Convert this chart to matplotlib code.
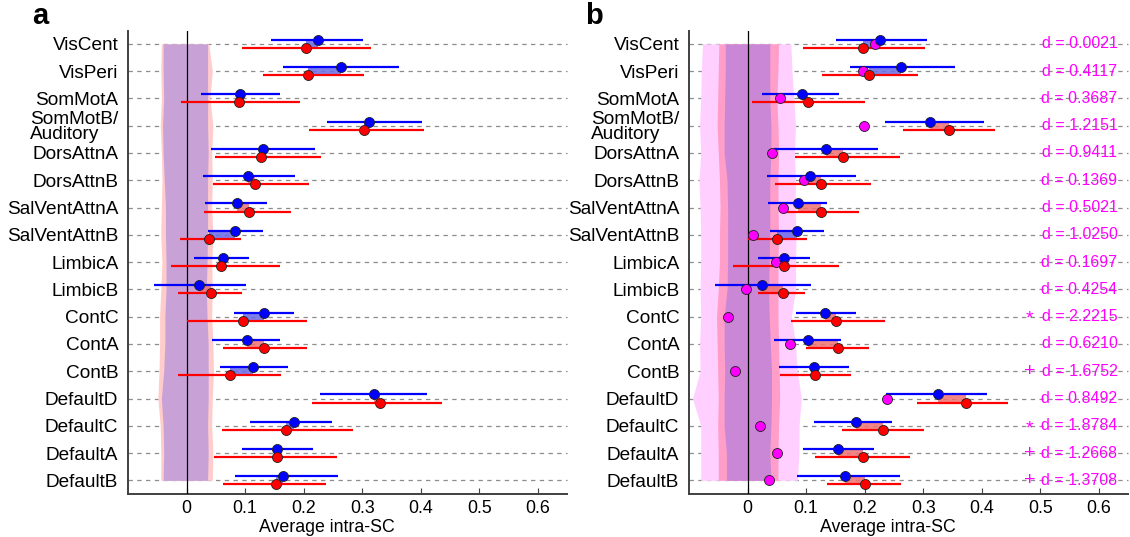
import numpy as np
import matplotlib
matplotlib.use("Agg")
import matplotlib.pyplot as plt

plt.rcParams['font.family'] = ['Liberation Sans', 'DejaVu Sans']

networks = ["VisCent", "VisPeri", "SomMotA", "SomMotB/\nAuditory", "DorsAttnA", "DorsAttnB",
            "SalVentAttnA", "SalVentAttnB", "LimbicA", "LimbicB", "ContC", "ContA", "ContB",
            "DefaultD", "DefaultC", "DefaultA", "DefaultB"]

# ---- panel a ----
a_blue_mean = [0.225, 0.264, 0.092, 0.312, 0.130, 0.105, 0.086, 0.083, 0.062, 0.021, 0.132, 0.103, 0.113, 0.321, 0.183, 0.154, 0.165]
a_blue_lo   = [0.144, 0.165, 0.025, 0.240, 0.042, 0.028, 0.032, 0.036, 0.013, -0.056, 0.081, 0.043, 0.058, 0.228, 0.108, 0.094, 0.083]
a_blue_hi   = [0.302, 0.363, 0.160, 0.402, 0.220, 0.186, 0.137, 0.130, 0.107, 0.101, 0.183, 0.159, 0.173, 0.410, 0.248, 0.216, 0.258]
a_red_mean  = [0.204, 0.208, 0.089, 0.304, 0.127, 0.117, 0.107, 0.038, 0.059, 0.041, 0.096, 0.132, 0.075, 0.331, 0.170, 0.154, 0.152]
a_red_lo    = [0.095, 0.130, -0.010, 0.209, 0.048, 0.045, 0.029, -0.012, -0.026, -0.014, 0.000, 0.063, -0.015, 0.214, 0.061, 0.047, 0.062]
a_red_hi    = [0.315, 0.303, 0.193, 0.405, 0.230, 0.209, 0.179, 0.093, 0.159, 0.094, 0.206, 0.206, 0.162, 0.437, 0.285, 0.257, 0.239]
a_null_red_lo  = [-0.043, -0.044, -0.043, -0.045, -0.043, -0.042, -0.043, -0.044, -0.042, -0.044, -0.046, -0.046, -0.047, -0.049, -0.045, -0.044, -0.044]
a_null_red_hi  = [0.038, 0.044, 0.040, 0.045, 0.043, 0.044, 0.043, 0.045, 0.043, 0.044, 0.043, 0.045, 0.046, 0.044, 0.043, 0.045, 0.044]
a_null_blue_lo = [-0.040, -0.040, -0.039, -0.041, -0.040, -0.038, -0.036, -0.036, -0.035, -0.035, -0.037, -0.037, -0.039, -0.043, -0.040, -0.039, -0.040]
a_null_blue_hi = [0.036, 0.036, 0.036, 0.036, 0.037, 0.036, 0.036, 0.036, 0.035, 0.034, 0.035, 0.037, 0.037, 0.037, 0.036, 0.037, 0.036]

# ---- panel b ----
b_blue_mean = [0.226, 0.263, 0.093, 0.312, 0.134, 0.106, 0.087, 0.085, 0.063, 0.024, 0.133, 0.104, 0.113, 0.325, 0.185, 0.155, 0.167]
b_blue_lo   = [0.151, 0.175, 0.025, 0.234, 0.045, 0.034, 0.035, 0.039, 0.018, -0.056, 0.083, 0.045, 0.053, 0.236, 0.113, 0.094, 0.084]
b_blue_hi   = [0.306, 0.354, 0.157, 0.404, 0.223, 0.185, 0.135, 0.131, 0.107, 0.108, 0.186, 0.159, 0.173, 0.409, 0.247, 0.216, 0.260]
b_red_mean  = [0.197, 0.207, 0.103, 0.345, 0.163, 0.126, 0.125, 0.051, 0.063, 0.061, 0.151, 0.154, 0.115, 0.374, 0.232, 0.198, 0.200]
b_red_lo    = [0.095, 0.128, 0.007, 0.265, 0.081, 0.047, 0.060, 0.001, -0.024, 0.018, 0.075, 0.100, 0.055, 0.290, 0.162, 0.116, 0.136]
b_red_hi    = [0.304, 0.292, 0.200, 0.422, 0.261, 0.211, 0.190, 0.101, 0.157, 0.099, 0.235, 0.208, 0.177, 0.445, 0.301, 0.278, 0.262]
b_mag_mean  = [0.218, 0.197, 0.056, 0.199, 0.042, 0.097, 0.060, 0.009, 0.048, -0.002, -0.033, 0.073, -0.021, 0.239, 0.022, 0.051, 0.037]
b_d_values  = ["0.0021", "0.4117", "0.3687", "1.2151", "0.9411", "0.1369", "0.5021", "1.0250", "0.1697",
               "0.4254", "2.2215", "0.6210", "1.6752", "0.8492", "1.8784", "1.2668", "1.3708"]
b_signif    = ["", "", "", "", "", "", "", "", "", "", "*", "", "+", "", "*", "+", "+"]
b_null_mag_lo  = [-0.077, -0.079, -0.080, -0.082, -0.080, -0.083, -0.081, -0.080, -0.080, -0.081, -0.080, -0.082, -0.081, -0.094, -0.080, -0.080, -0.080]
b_null_mag_hi  = [0.074, 0.076, 0.079, 0.082, 0.080, 0.082, 0.081, 0.083, 0.082, 0.082, 0.075, 0.082, 0.085, 0.092, 0.088, 0.088, 0.085]
b_null_red_lo  = [-0.049, -0.050, -0.051, -0.052, -0.050, -0.048, -0.047, -0.048, -0.048, -0.050, -0.053, -0.052, -0.051, -0.050, -0.051, -0.050, -0.050]
b_null_red_hi  = [0.053, 0.052, 0.050, 0.052, 0.053, 0.052, 0.052, 0.053, 0.052, 0.052, 0.052, 0.053, 0.054, 0.055, 0.053, 0.052, 0.052]
b_null_blue_lo = [-0.038, -0.038, -0.039, -0.040, -0.040, -0.035, -0.034, -0.034, -0.034, -0.035, -0.040, -0.040, -0.039, -0.040, -0.040, -0.036, -0.036]
b_null_blue_hi = [0.038, 0.038, 0.038, 0.040, 0.040, 0.038, 0.038, 0.038, 0.037, 0.036, 0.037, 0.039, 0.041, 0.041, 0.040, 0.038, 0.040]

xticks = [0, 0.1, 0.2, 0.3, 0.4, 0.5, 0.6]
xticklabels = ["0", "0.1", "0.2", "0.3", "0.4", "0.5", "0.6"]

FS_Y = 13.7
FS_X = 12.8
W, H = 1130, 537
fig = plt.figure(figsize=(W / 100, H / 100), dpi=100)
axA = fig.add_axes([128 / W, 1 - 494 / H, 439 / W, 463 / H])
axB = fig.add_axes([689 / W, 1 - 494 / H, 439 / W, 463 / H])

rows = np.arange(len(networks))
off = 0.15


def base(ax):
    ax.set_xlim(-0.1, 0.65)
    ax.set_ylim(16.5, -0.47)
    for r in rows:
        ax.axhline(r, color='#8c8c8c', lw=0.9, ls=(0, (3.5, 3.5)), zorder=1, clip_on=False)
    ax.axvline(0, color='black', lw=0.9, zorder=3)
    for s in ['top', 'right']:
        ax.spines[s].set_visible(False)
    for s in ['left', 'bottom']:
        ax.spines[s].set_color('#404040')
        ax.spines[s].set_linewidth(1.4)
    ax.set_yticks(rows)
    ax.set_yticklabels(networks, fontsize=FS_Y, linespacing=0.9)
    for t in ax.get_yticklabels():
        t.set_multialignment('left')
    ax.tick_params(axis='y', length=0, pad=7)
    ax.set_xticks(xticks)
    ax.set_xticklabels(xticklabels, fontsize=FS_X)
    ax.tick_params(axis='x', direction='in', length=4, color='#404040', pad=4)
    ax.set_xlabel("Average intra-SC", fontsize=FS_X, labelpad=1)
    ax.xaxis.set_label_coords(0.453, -0.055)


def pairs(ax, bm, blo, bhi, rm, rlo, rhi):
    for i in rows:
        lo, hi = min(bm[i], rm[i]), max(bm[i], rm[i])
        col = '#6a6ae8' if bm[i] >= rm[i] else '#f07070'
        ax.fill_between([lo, hi], i - off, i + off, color=col, alpha=0.85, lw=0, zorder=4)
    ax.hlines(rows - off, blo, bhi, color='#0000ff', lw=1.6, zorder=5)
    ax.hlines(rows + off, rlo, rhi, color='#ff0000', lw=1.6, zorder=5)
    ax.plot(bm, rows - off, 'o', ms=7.2, mfc='#0000ff', mec='#202020', mew=0.6, ls='none', zorder=7)
    ax.plot(rm, rows + off, 'o', ms=7.2, mfc='#ff0000', mec='#202020', mew=0.6, ls='none', zorder=7)


# panel a
base(axA)
axA.fill_betweenx(rows, a_null_red_lo, a_null_red_hi, color='#ffcccc', lw=0, zorder=2)
axA.fill_betweenx(rows, a_null_blue_lo, a_null_blue_hi, color='#c8a2d6', lw=0, zorder=2.5)
pairs(axA, a_blue_mean, a_blue_lo, a_blue_hi, a_red_mean, a_red_lo, a_red_hi)

# panel b
base(axB)
axB.fill_betweenx(rows, b_null_mag_lo, b_null_mag_hi, color='#ffd0ff', lw=0, zorder=2)
axB.fill_betweenx(rows, b_null_red_lo, b_null_red_hi, color='#ff9ec8', lw=0, zorder=2.2)
axB.fill_betweenx(rows, b_null_blue_lo, b_null_blue_hi, color='#c987d6', lw=0, zorder=2.5)
pairs(axB, b_blue_mean, b_blue_lo, b_blue_hi, b_red_mean, b_red_lo, b_red_hi)
axB.plot(b_mag_mean, rows, 'o', ms=7.2, mfc='#ff00ff', mec='#202020', mew=0.6, ls='none', zorder=6)
for i in rows:
    axB.text(0.632, i, "d = " + b_d_values[i], color='#ff00ff', fontsize=11.5, ha='right', va='center', zorder=8)
    if b_signif[i]:
        axB.text(0.482, i + (0.1 if b_signif[i] == '*' else 0.0), b_signif[i], color='#ff00ff',
                 fontsize=14, ha='center', va='center', zorder=8)

fig.text(32 / W, 1 - 16 / H, "a", fontsize=21, fontweight='bold', ha='left', va='center')
fig.text(585 / W, 1 - 16 / H, "b", fontsize=21, fontweight='bold', ha='left', va='center')

fig.savefig("out.png", dpi=100)
